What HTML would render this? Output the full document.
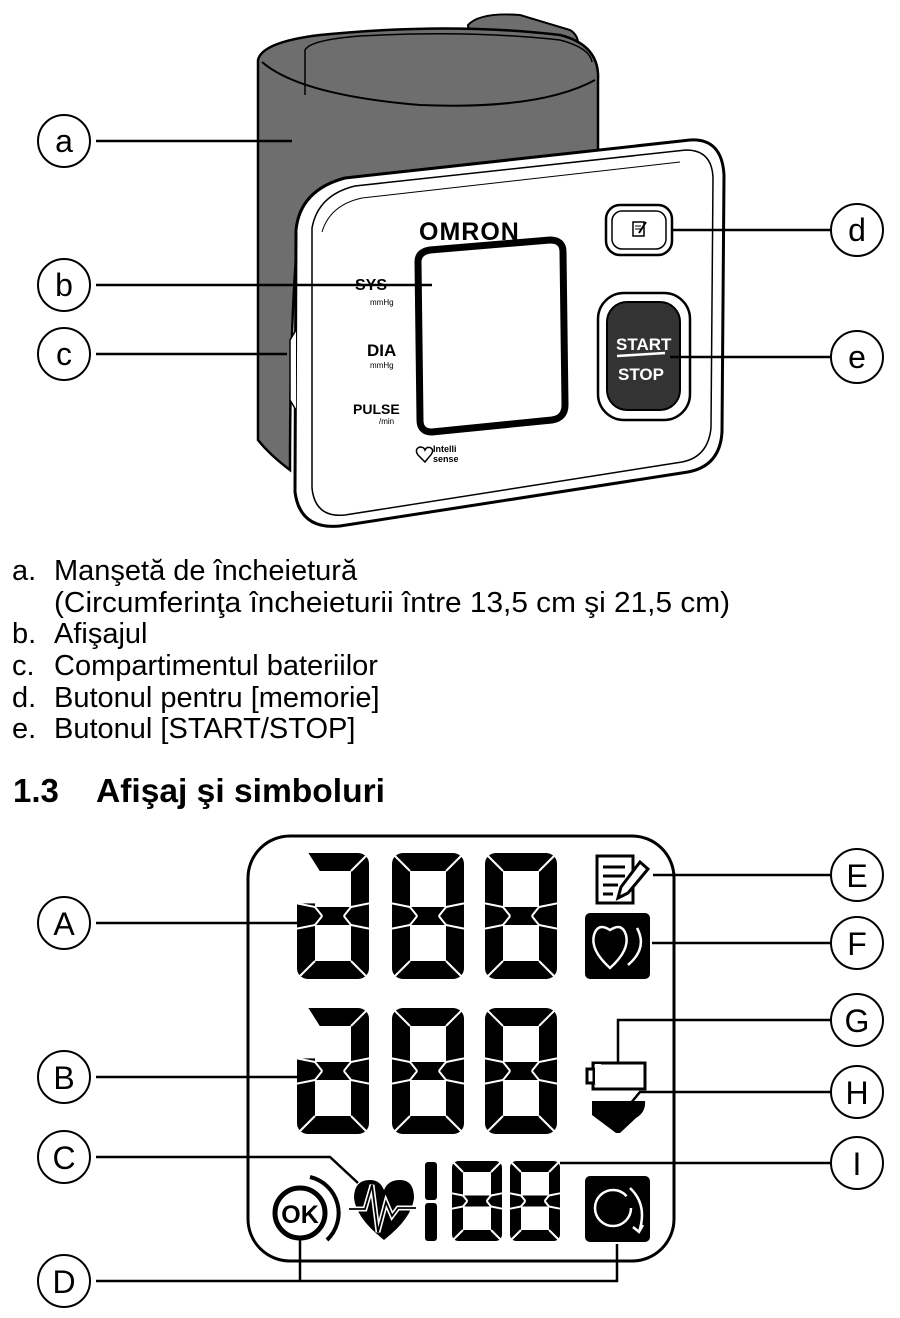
<!DOCTYPE html>
<html><head><meta charset="utf-8"><style>
html,body{margin:0;padding:0;background:#fff}
svg{display:block}
text{font-family:"Liberation Sans",Arial,sans-serif}
</style></head><body>
<svg id="s" width="900" height="1318" viewBox="0 0 900 1318" xmlns="http://www.w3.org/2000/svg">
<path d="M468,25 Q480,12 520,15 L570,30 Q580,36 578,50 L470,48 Z" fill="#6e6e6e" stroke="#000" stroke-width="2"/>
<path d="M258,60 Q262,42 320,35 Q450,22 560,35 Q600,45 598,80 L598,150 L300,215 Q290,300 290,470 Q270,455 258,440 Z" fill="#6e6e6e" stroke="#000" stroke-width="2.5"/>
<path d="M262,62 Q300,95 420,105 Q540,110 595,80" fill="none" stroke="#000" stroke-width="2"/>
<path d="M305,50 Q310,40 360,36 Q470,30 560,40 Q590,48 592,62" fill="none" stroke="#000" stroke-width="1.5"/>
<path d="M305,50 L305,95" fill="none" stroke="#000" stroke-width="1.5"/>
<path d="M296,230 Q300,190 345,178 L690,140 Q722,138 724,175 L722,432 Q720,466 688,472 L340,526 Q300,530 295,492 Z" fill="#fff" stroke="#000" stroke-width="3"/>
<path d="M312,228 Q318,195 355,186 L686,150 Q712,150 713,178 L711,428 Q708,457 682,462 L345,515 Q315,518 312,488 Z" fill="none" stroke="#000" stroke-width="1.5"/>
<path d="M322,232 Q330,205 362,198 L680,162" fill="none" stroke="#000" stroke-width="1"/>
<path d="M296,330 L290,340 L290,400 L296,410" fill="#fff" stroke="#000" stroke-width="1.5"/>
<path d="M418,262 Q418,252 430,250 L550,240 Q563,240 563,252 L565,405 Q565,418 552,420 L432,432 Q420,432 420,420 Z" fill="#fff" stroke="#000" stroke-width="7"/>
<text x="419" y="240" font-size="25" font-weight="bold" letter-spacing="1">OMRON</text>
<text x="355" y="290" font-size="16" font-weight="bold">SYS</text>
<text x="370" y="305" font-size="8">mmHg</text>
<text x="367" y="356" font-size="17" font-weight="bold">DIA</text>
<text x="370" y="368" font-size="8">mmHg</text>
<text x="353" y="414" font-size="14" font-weight="bold">PULSE</text>
<text x="379" y="424" font-size="8">/min</text>
<path d="M418,455 q-4,-6 2,-8 q4,0 5,3 q2,-4 6,-2 q4,3 -2,9 l-4,5 z" fill="none" stroke="#000" stroke-width="1.5"/>
<text x="433" y="452" font-size="9" font-weight="bold">Intelli</text>
<text x="433" y="462" font-size="9" font-weight="bold">sense</text>
<rect x="606" y="205" width="66" height="50" rx="14" fill="#fff" stroke="#000" stroke-width="2.5"/>
<rect x="612" y="211" width="54" height="38" rx="10" fill="none" stroke="#000" stroke-width="1.5"/>
<rect x="633" y="222" width="11" height="14" fill="none" stroke="#000" stroke-width="1.5"/>
<line x1="635" y1="226" x2="641" y2="226" stroke="#000" stroke-width="1"/>
<line x1="635" y1="229" x2="641" y2="229" stroke="#000" stroke-width="1"/>
<line x1="646" y1="222" x2="639" y2="233" stroke="#000" stroke-width="2"/>
<rect x="598" y="293" width="92" height="127" rx="26" fill="#fff" stroke="#000" stroke-width="2.5"/>
<rect x="607" y="302" width="73" height="108" rx="20" fill="#333" stroke="#000" stroke-width="2"/>
<text x="616" y="350" font-size="17" font-weight="bold" fill="#fff">START</text>
<line x1="617" y1="356" x2="665" y2="353" stroke="#fff" stroke-width="2.5"/>
<text x="618" y="380" font-size="17" font-weight="bold" fill="#fff">STOP</text>

<g fill="none" stroke="#000" stroke-width="2">
<circle cx="64" cy="141" r="26"/><circle cx="64" cy="285" r="26"/><circle cx="64" cy="354" r="26"/>
<circle cx="857" cy="230" r="26"/><circle cx="857" cy="357" r="26"/>
<line x1="96" y1="141" x2="292" y2="141" stroke-width="2.5"/>
<line x1="96" y1="285" x2="432" y2="285" stroke-width="2.5"/>
<line x1="96" y1="354" x2="287" y2="354" stroke-width="2.5"/>
<line x1="672" y1="230" x2="831" y2="230" stroke-width="2.5"/>
<line x1="670" y1="357" x2="831" y2="357" stroke-width="2.5"/>
</g>
<g font-size="32" text-anchor="middle">
<text x="64" y="152">a</text><text x="64" y="296">b</text><text x="64" y="365">c</text>
<text x="857" y="241">d</text><text x="857" y="368">e</text>
</g>

<g font-size="29">
<text x="12" y="580">a.</text><text x="54" y="580">Manşetă de încheietură</text>
<text x="54" y="612" textLength="676" lengthAdjust="spacingAndGlyphs">(Circumferinţa încheieturii între 13,5 cm şi 21,5 cm)</text>
<text x="12" y="643">b.</text><text x="54" y="643">Afişajul</text>
<text x="12" y="675">c.</text><text x="54" y="675">Compartimentul bateriilor</text>
<text x="12" y="707">d.</text><text x="54" y="707">Butonul pentru [memorie]</text>
<text x="12" y="738">e.</text><text x="54" y="738">Butonul [START/STOP]</text>
</g>
<g font-size="33" font-weight="bold">
<text x="13" y="802">1.3</text><text x="96" y="802" textLength="289" lengthAdjust="spacingAndGlyphs">Afişaj şi simboluri</text>
</g>

<rect x="248" y="836" width="426" height="425" rx="42" fill="none" stroke="#000" stroke-width="3"/>
<g id="digits"></g>

<rect x="597" y="856" width="36" height="47" fill="#fff" stroke="#000" stroke-width="3"/>
<g stroke="#000" stroke-width="3"><line x1="603" y1="867" x2="625" y2="867"/><line x1="603" y1="876" x2="625" y2="876"/><line x1="603" y1="885" x2="618" y2="885"/><line x1="603" y1="894" x2="613" y2="894"/></g>
<path d="M640,862 L648,869 L628,893 L618,898 L621,887 Z" fill="#fff" stroke="#000" stroke-width="3"/>
<rect x="585" y="913" width="65" height="66" rx="5" fill="#000"/>
<path d="M610,968 Q590,950 594,935 Q598,922 610,930 Q622,922 626,935 Q630,950 610,968 Z" fill="none" stroke="#fff" stroke-width="2.5"/>
<path d="M637,928 Q648,948 628,965" fill="none" stroke="#fff" stroke-width="2.5"/>
<rect x="593" y="1063" width="52" height="26" fill="#fff" stroke="#000" stroke-width="3"/>
<rect x="587" y="1069" width="7" height="14" fill="#fff" stroke="#000" stroke-width="3"/>
<rect x="595" y="1064" width="6" height="20" fill="#fff"/>
<path d="M592,1101 L645,1101 Q646,1112 636,1118 L620,1133 L616,1133 L592,1115 Z" fill="#000"/>
<rect x="585" y="1176" width="65" height="66" rx="5" fill="#000"/>
<circle cx="613" cy="1208" r="18" fill="none" stroke="#fff" stroke-width="2.5" stroke-dasharray="100 13"/>
<path d="M630,1188 Q648,1205 639,1232 M633,1227 l6,5 l4,-7" fill="none" stroke="#fff" stroke-width="2.5"/>
<circle cx="300" cy="1213" r="25" fill="none" stroke="#000" stroke-width="5"/>
<path d="M310,1177 A37,37 0 0 1 327,1240" fill="none" stroke="#000" stroke-width="4"/>
<text x="300" y="1223" font-size="25" font-weight="bold" text-anchor="middle">OK</text>
<path d="M384,1240 Q356,1218 354,1198 Q354,1180 370,1180 Q380,1180 384,1190 Q388,1180 400,1180 Q414,1180 414,1198 Q412,1218 384,1240 Z" fill="#000"/>
<path d="M349,1209 L365,1209 L372,1185 L378,1232 L386,1202 L392,1216 L398,1208 L416,1208" fill="none" stroke="#fff" stroke-width="5"/>
<path d="M349,1209 L365,1209 L372,1185 L378,1232 L386,1202 L392,1216 L398,1208 L416,1208" fill="none" stroke="#000" stroke-width="1.8"/>

<g fill="none" stroke="#000" stroke-width="2">
<circle cx="64" cy="923" r="26"/><circle cx="64" cy="1077" r="26"/><circle cx="64" cy="1157" r="26"/><circle cx="64" cy="1281" r="26"/>
<circle cx="857" cy="875" r="26"/><circle cx="857" cy="943" r="26"/><circle cx="857" cy="1020" r="26"/><circle cx="857" cy="1092" r="26"/><circle cx="857" cy="1163" r="26"/>
<g stroke-width="2.5">
<polyline points="96,923 298,923"/>
<polyline points="96,1077 298,1077"/>
<polyline points="96,1157 330,1157 358,1183"/>
<polyline points="96,1281 617,1281 617,1244"/>
<polyline points="300,1281 300,1240"/>
<polyline points="831,875 653,875"/>
<polyline points="831,943 652,943"/>
<polyline points="831,1020 618,1020 618,1062"/>
<polyline points="831,1092 640,1092 630,1104"/>
<polyline points="831,1163 560,1163"/>
</g></g>
<g font-size="32" text-anchor="middle">
<text x="64" y="935">A</text><text x="64" y="1089">B</text><text x="64" y="1169">C</text><text x="64" y="1293">D</text>
<text x="857" y="887">E</text><text x="857" y="955">F</text><text x="857" y="1032">G</text><text x="857" y="1104">H</text><text x="857" y="1175">I</text>
</g>
</svg>
<script>
var g=document.getElementById('digits'),NS='http://www.w3.org/2000/svg';
function el(n,a){var e=document.createElementNS(NS,n);for(var k in a)e.setAttribute(k,a[k]);g.appendChild(e);return e;}
function digit(x,y,W,H,t,noF){
 var m=y+H/2;
 el('rect',{x:x,y:y,width:W,height:H,rx:t*0.6,fill:'#000'});
 el('rect',{x:x+t,y:y+t,width:W-2*t,height:H/2-t*1.5,fill:'#fff'});
 el('rect',{x:x+t,y:m+t/2,width:W-2*t,height:H/2-t*1.5,fill:'#fff'});
 var s={stroke:'#fff','stroke-width':2};
 function L(a,b,c,d){var o={x1:a,y1:b,x2:c,y2:d};for(var k in s)o[k]=s[k];el('line',o);}
 L(x,y,x+t,y+t);L(x+W,y,x+W-t,y+t);L(x,y+H,x+t,y+H-t);L(x+W,y+H,x+W-t,y+H-t);
 L(x,m-t*0.7,x+t,m-t/2);L(x,m+t*0.7,x+t,m+t/2);L(x+t,m-t/2,x+t*1.4,m);L(x+t,m+t/2,x+t*1.4,m);
 L(x+W,m-t*0.7,x+W-t,m-t/2);L(x+W,m+t*0.7,x+W-t,m+t/2);L(x+W-t,m-t/2,x+W-t*1.4,m);L(x+W-t,m+t/2,x+W-t*1.4,m);
 if(noF){el('rect',{x:x-1,y:y+t,width:t+1.5,height:H/2-t*1.7,fill:'#fff'});
  el('polygon',{points:(x-1)+','+(y-1)+' '+(x+t*0.6)+','+(y-1)+' '+(x+t*1.3)+','+(y+t+1)+' '+(x-1)+','+(y+t+1),fill:'#fff'});}
}
[853,1008].forEach(function(y){digit(297,y,72,126,18,true);digit(392,y,72,126,18);digit(485,y,72,126,18);});
digit(452,1161,50,80,11);digit(510,1161,50,80,11);
el('rect',{x:425,y:1162,width:12,height:38,rx:3,fill:'#000'});
el('rect',{x:425,y:1203,width:12,height:38,rx:3,fill:'#000'});
</script>
</body></html>
